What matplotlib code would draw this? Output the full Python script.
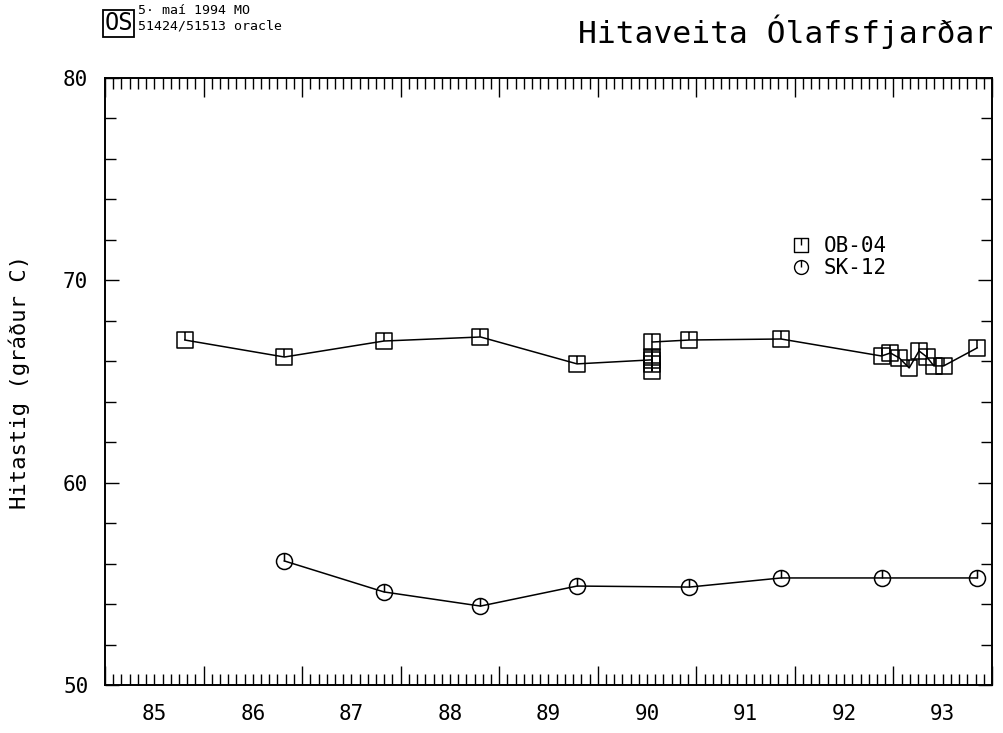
import numpy as np
import matplotlib
matplotlib.use("Agg")
import matplotlib.pyplot as plt
from matplotlib.path import Path
from matplotlib.lines import Line2D
from matplotlib.ticker import MultipleLocator, NullFormatter

plt.rcParams['font.family'] = ['DejaVu Sans Mono', 'DejaVu Sans']

# OB-04 (decimal year, temperature)
ob04_year = [85.81, 86.82, 87.83, 88.81, 89.79,
             90.55, 90.55, 90.55, 90.55, 90.55,
             90.93, 91.86,
             92.88, 92.97, 93.06, 93.16, 93.26, 93.34, 93.41, 93.51, 93.85]
ob04_temp = [67.05, 66.21, 67.0, 67.2, 65.87,
             66.07, 65.52, 65.87, 66.21, 66.95,
             67.05, 67.1,
             66.26, 66.41, 66.16, 65.67, 66.51, 66.21, 65.77, 65.77, 66.66]

# SK-12
sk12_year = [86.82, 87.83, 88.81, 89.79, 90.93, 91.86, 92.88, 93.85]
sk12_temp = [56.13, 54.6, 53.9, 54.89, 54.84, 55.29, 55.29, 55.29]

year_labels = ['85', '86', '87', '88', '89', '90', '91', '92', '93']

# old plotter style markers: open shape with a tick from the top to the centre
M, L, C = Path.MOVETO, Path.LINETO, Path.CLOSEPOLY
sq_marker = Path([(-1, -1), (1, -1), (1, 1), (-1, 1), (-1, -1), (0, 1), (0, 0)],
                 [M, L, L, L, C, M, L])
circ = Path.unit_circle()
tick = Path([(0, 1), (0, 0)], [M, L])
circ_marker = Path.make_compound_path(circ, tick)

fig = plt.figure(figsize=(10.04, 7.33), dpi=100)
ax = fig.add_axes([0.1046, 0.0655, 0.8834, 0.8281])

ax.plot(ob04_year, ob04_temp, color='black', lw=1.1, marker=sq_marker,
        ms=11.5, mfc='none', mec='black', mew=1.1)
ax.plot(sk12_year, sk12_temp, color='black', lw=1.1, marker=circ_marker,
        ms=11.5, mfc='none', mec='black', mew=1.1)

ax.set_xlim(85, 94)
ax.set_ylim(50, 80)

ax.xaxis.set_major_locator(MultipleLocator(1))
ax.xaxis.set_minor_locator(MultipleLocator(1 / 12))
ax.xaxis.set_major_formatter(NullFormatter())
ax.yaxis.set_major_locator(MultipleLocator(10))
ax.yaxis.set_minor_locator(MultipleLocator(2))
ax.tick_params(which='both', direction='in', top=True, right=True, width=1.0)
ax.tick_params(axis='x', which='major', length=14)
ax.tick_params(axis='x', which='minor', length=8)
ax.tick_params(axis='y', which='major', length=10, labelsize=15, pad=12)
ax.tick_params(axis='y', which='minor', length=8)
for s in ax.spines.values():
    s.set_linewidth(1.4)

# year labels in the middle of each year
sec = ax.secondary_xaxis('bottom')
sec.set_xticks([int(y) + 0.5 for y in year_labels], year_labels)
sec.tick_params(length=0, labelsize=15, pad=14)
sec.spines['bottom'].set_visible(False)

ax.set_ylabel('Hitastig (gráður C)', fontsize=16, labelpad=24)

ax.legend(handles=[Line2D([], [], ls='none', marker=sq_marker, ms=10, mfc='none',
                          mec='black', label='OB-04'),
                   Line2D([], [], ls='none', marker=circ_marker, ms=10, mfc='none',
                          mec='black', label='SK-12')],
          loc='upper left', bbox_to_anchor=(0.761, 0.757), frameon=False,
          fontsize=15, handlelength=1.0, handletextpad=0.6, labelspacing=0.1,
          borderpad=0)

fig.text(0.576, 0.957, 'Hitaveita Ólafsfjarðar', fontsize=22.5, va='center', ha='left')
fig.text(0.104, 0.968, 'OS', fontsize=17, va='center', ha='left',
         bbox=dict(boxstyle='square,pad=0.05', fc='none', ec='black', lw=1.3))
fig.text(0.137, 0.985, '5· maí 1994 MO', fontsize=9.5, va='center', ha='left')
fig.text(0.137, 0.964, '51424/51513 oracle', fontsize=9.5, va='center', ha='left')

fig.savefig('out.png', dpi=100)
